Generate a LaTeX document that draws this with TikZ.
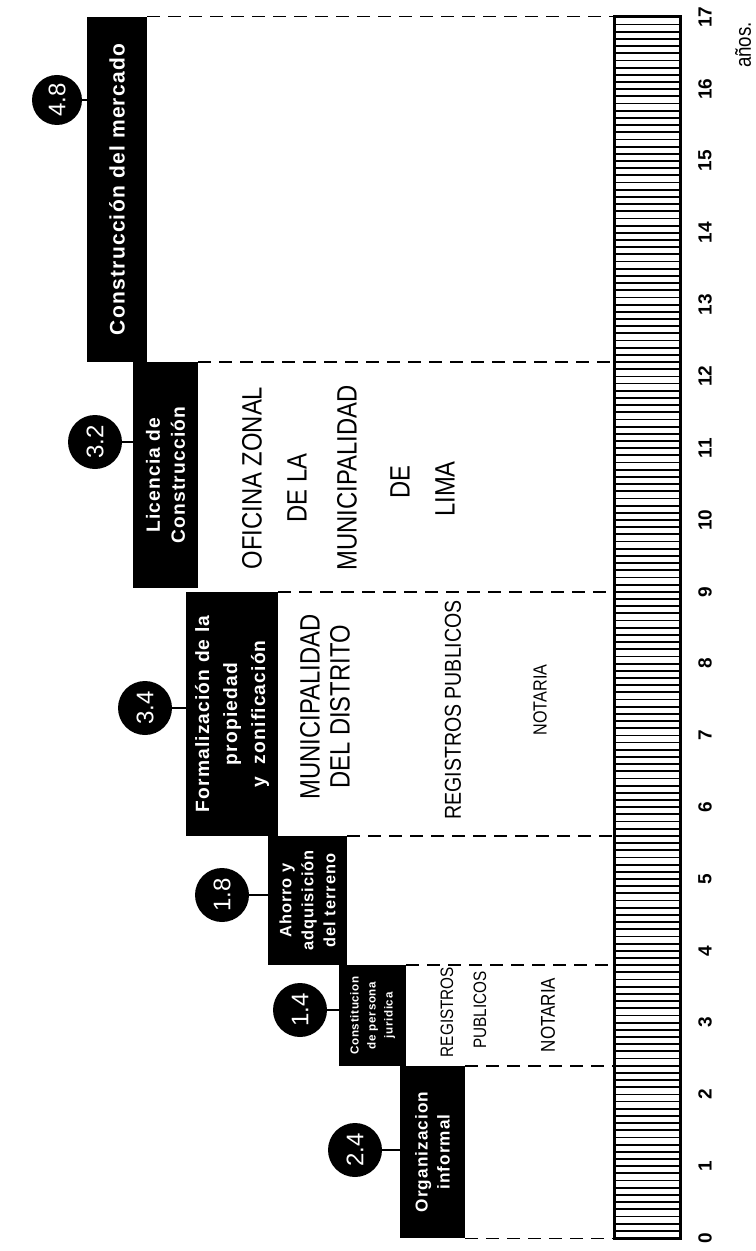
\documentclass[tikz,border=0pt]{standalone}
\usepackage{fontspec}
\setmainfont{Liberation Sans}
\newfontfamily\boxfont[LetterSpace=6]{Liberation Sans}
\newfontfamily\condfont[FakeStretch=0.85]{Liberation Sans}
\begin{document}
\begin{tikzpicture}[x=0.5pt,y=-0.5pt,
  stagebox/.style={fill=black,text=white,inner sep=0pt,rotate=90,align=center,font=\boxfont},
  numcircle/.style={circle,fill=black,text=white,inner sep=0pt,minimum size=27pt,font=\fontsize{12}{12}\selectfont},
  link/.style={line width=0.8pt},
  guide/.style={line width=0.9pt,dash pattern=on 6.5pt off 4pt},
  agency/.style={rotate=90,align=center,inner sep=0pt,font=\condfont},
  yearlab/.style={rotate=90,inner sep=0pt,font=\bfseries\fontsize{9.5}{9.5}\selectfont},
  hatch/.style={line width=0.9pt}]
\useasboundingbox (0,0) rectangle (755,1251);

% time bar
\node[draw,line width=1.5pt,minimum width=33pt,minimum height=610.5pt,inner sep=0pt] (bar) at (647,627.5) {};
\foreach \i in {1,...,169}
  \draw[hatch] (614,{1238-7.18*\i}) -- (680,{1238-7.18*\i});

% stage boxes
\node[stagebox,minimum width=86pt,minimum height=32.5pt,font=\boxfont\bfseries\fontsize{8.6}{11}\selectfont] (b1) at (432.5,1152) {Organizacion\\informal};
\node[stagebox,minimum width=50.5pt,minimum height=33.5pt,font=\boxfont\bfseries\fontsize{5.8}{8.5}\selectfont] (b2) at (372.5,1015.5) {Constitucion\\de persona\\juridica};
\node[stagebox,minimum width=64.5pt,minimum height=39.5pt,font=\boxfont\bfseries\fontsize{8.2}{11}\selectfont] (b3) at (307.5,900.5) {Ahorro y\\adquisición\\del terreno};
\node[stagebox,minimum width=122pt,minimum height=46pt,font=\boxfont\bfseries\fontsize{9.6}{14}\selectfont] (b4) at (232,714) {Formalización de la\\propiedad\\y\ \ zonificación};
\node[stagebox,minimum width=113pt,minimum height=32.5pt,font=\boxfont\bfseries\fontsize{9.6}{12.5}\selectfont] (b5) at (165.5,475) {Licencia de\\Construcción};
\node[stagebox,minimum width=172.5pt,minimum height=30pt,font=\boxfont\bfseries\fontsize{10.5}{12}\selectfont] (b6) at (117,189.5) {Construcción del mercado};

% circles
\node[numcircle] (c1) at (355,1150) {\rotatebox{90}{2.4}};
\node[numcircle] (c2) at (300,1010) {\rotatebox{90}{1.4}};
\node[numcircle] (c3) at (222,895) {\rotatebox{90}{1.8}};
\node[numcircle] (c4) at (145,708) {\rotatebox{90}{3.4}};
\node[numcircle] (c5) at (95,442) {\rotatebox{90}{3.2}};
\node[numcircle,minimum size=25pt] (c6) at (57,100) {\rotatebox{90}{4.8}};

\foreach \c/\b in {c1/b1,c2/b2,c3/b3,c4/b4,c5/b5,c6/b6}
  \draw[link] (\c.east) -- (\c.east -| \b.north);

% dashed guides
\draw[guide] (b1.south west) -- (b1.south west -| bar.west);
\draw[guide] (b1.south east) -- (b1.south east -| bar.west);
\draw[guide] (b2.south east) -- (b2.south east -| bar.west);
\draw[guide] (b3.south east) -- (b3.south east -| bar.west);
\draw[guide] (b4.south east) -- (b4.south east -| bar.west);
\draw[guide] (b5.south east) -- (b5.south east -| bar.west);
\draw[guide] (b6.south east) -- (b6.south east -| bar.west);

% agencies
\node[agency,font=\condfont\fontsize{9}{9}\selectfont] (a1) at (447,1012) {REGISTROS};
\node[agency,font=\condfont\fontsize{9}{9}\selectfont] (a2) at (480,1010) {PUBLICOS};
\node[agency,font=\condfont\fontsize{10}{10}\selectfont] (a3) at (548,1015) {NOTARIA};
\node[agency,font=\condfont\fontsize{14}{15}\selectfont] (a4) at (325,707) {MUNICIPALIDAD\\DEL DISTRITO};
\node[agency,font=\condfont\fontsize{11.5}{12}\selectfont] (a5) at (453,710) {REGISTROS PUBLICOS};
\node[agency,font=\condfont\fontsize{9.5}{10}\selectfont] (a6) at (540,700) {NOTARIA};
\node[agency,font=\condfont\fontsize{14}{15}\selectfont] (a7) at (252,478) {OFICINA ZONAL};
\node[agency,font=\condfont\fontsize{14}{15}\selectfont] (a8) at (297,488) {DE LA};
\node[agency,font=\condfont\fontsize{14}{15}\selectfont] (a9) at (347,478) {MUNICIPALIDAD};
\node[agency,font=\condfont\fontsize{14}{15}\selectfont] (a10) at (400,482) {DE};
\node[agency,font=\condfont\fontsize{14}{15}\selectfont] (a11) at (445,489) {LIMA};

% axis labels
\foreach \t in {0,...,17}
  \node[yearlab] (y\t) at (705,{1238-71.8*\t}) {\t};
\node[rotate=90,inner sep=0pt,font=\condfont\fontsize{11}{11}\selectfont] (unit) at (743,45) {años.};
\end{tikzpicture}
\end{document}
